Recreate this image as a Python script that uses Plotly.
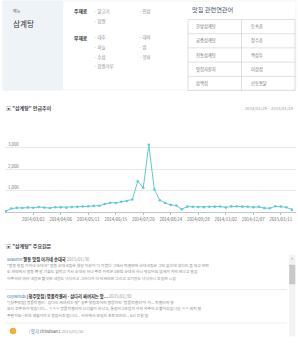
import plotly.graph_objects as go

W, H = 298, 347
KR = "Noto Sans CJK KR"

# ---------------- data ----------------
weeks = [
    "2014-01-26", "2014-02-02", "2014-02-09", "2014-02-16", "2014-02-23",
    "2014-03-02", "2014-03-09", "2014-03-16", "2014-03-23", "2014-03-30",
    "2014-04-06", "2014-04-13", "2014-04-20", "2014-04-27",
    "2014-05-04", "2014-05-11", "2014-05-18", "2014-05-25",
    "2014-06-01", "2014-06-08", "2014-06-15", "2014-06-22", "2014-06-29",
    "2014-07-06", "2014-07-13", "2014-07-20", "2014-07-27",
    "2014-08-03", "2014-08-10", "2014-08-17", "2014-08-24", "2014-08-31",
    "2014-09-07", "2014-09-14", "2014-09-21", "2014-09-28",
    "2014-10-05", "2014-10-12", "2014-10-19", "2014-10-26",
    "2014-11-02", "2014-11-09", "2014-11-16", "2014-11-23", "2014-11-30",
    "2014-12-07", "2014-12-14", "2014-12-21", "2014-12-28",
    "2015-01-04", "2015-01-11", "2015-01-18", "2015-01-25",
]
mentions = [
    30, 160, 190, 185, 215, 200, 230, 205, 185, 220,
    225, 200, 235, 240, 255, 270, 285, 290, 370, 430,
    420, 480, 510, 580, 1430, 1130, 3130, 1050, 550, 420,
    330, 300, 130, 250, 240, 235, 225, 240, 250, 255,
    215, 260, 265, 250, 245, 225, 240, 180, 175, 265,
    255, 220, 110,
]
x_tick_dates = ["2014-01-26", "2014-03-02", "2014-04-06", "2014-05-11", "2014-06-15",
                "2014-07-20", "2014-08-24", "2014-09-28", "2014-11-02", "2014-12-07",
                "2015-01-11"]
x_tick_labels = ["2014/01/26", "2014/03/02", "2014/04/06", "2014/05/11", "2014/06/15",
                 "2014/07/20", "2014/08/24", "2014/09/28", "2014/11/02", "2014/12/07",
                 "2015/01/11"]
y_tick_vals = [0, 1000, 2000, 3000, 4000]
y_tick_labels = ["", "1,000", "2,000", "3,000", ""]

menu_name = "삼계탕"
main_ingredients = ["닭고기", "인삼", "찹쌀"]
sub_ingredients = ["대추", "대파", "마늘", "밤", "수삼", "양파", "찹쌀가루"]
related_left = ["한방삼계탕", "궁중삼계탕", "전통삼계탕", "맛집자갈치", "삼백집"]
related_right = ["토속촌", "장수촌", "백삼투", "이삼정", "산동통닭"]
date_range_text = "2014/01/29 ~ 2015/01/29"

posts = [
    {"user": "seasmn", "title": "팔동 맛집 이가네 순대국", "date": "2015/01/30",
     "body": ["\"팔동 맛집 이가네 순대국\" 팔동 순대국집은 항상 이상이 다 가볍다 그래서 먹을만한 순대국집은 그닥 없는데 생긴지 좀 되고 한번",
              "도 와인에서 팔동 쪽 갈 기회도 없었고 가서 순대국 하나 주문 가격은 3천원 순대국 하나 맛있어요 냄새가 거의 안나고 깔끔",
              "이주하여 여러 내장은 쫄깃한 내장도 넉넉하고 그러다가 더 비싸지만 그리고 고기정도 넉넉하니 푸짐한 느낌"]},
    {"user": "coywinds", "title": "[청주맛집] 명품칵겔러 - 삼다리 싸여지는 맛...", "date": "2015/01/30",
     "body": ["\"[청주맛집] 명품칵겔러 - 삼다리 싸여지는 맛\" 청주 맛집투어의 팔방미인 '명품칵겔러'이 가... 칵겔러의 맛",
              "요리 전주한가 맛습니다... ㅋㅋㅋ 명품칵겔러의 신선함이 지났고, 통갈비 2호점이 거의 자주하고 뿔어있습니당 ㅋㅋ 워치 잘",
              "주말가요~ 저희 체험이라고 종합사진 됩니다... 사진에서 보일지 포토인지라... 6시 전용 팀"]},
]
post3 = {"user": "chinduan1", "tag": "맛지", "date": "2015/01/30"}

# ---------------- figure ----------------
def px(x):
    return x / W

def py(y):
    return 1 - y / H

fig = go.Figure()
fig.add_trace(go.Scatter(
    x=weeks, y=mentions, mode="lines+markers",
    line=dict(color="#5fcbd8", width=1),
    marker=dict(color="#5fcbd8", size=2.6),
    hoverinfo="x+y", showlegend=False,
))

ann = []
def text(x, y, s, size, color="#555", bold=False, anchor="left"):
    ann.append(dict(x=px(x), y=py(y), xref="paper", yref="paper", text=("<b>%s</b>" % s) if bold else s,
                    showarrow=False, xanchor=anchor, yanchor="middle",
                    font=dict(family=KR, size=size, color=color)))

shapes = []
def rect(x0, y0, x1, y1, fill="rgba(0,0,0,0)", line="#e3e3e3", lw=0.6):
    shapes.append(dict(type="rect", xref="paper", yref="paper", x0=px(x0), x1=px(x1), y0=py(y1), y1=py(y0),
                       fillcolor=fill, line=dict(color=line, width=lw), layer="below"))

def hline(x0, x1, y, color="#e3e3e3", lw=0.6):
    shapes.append(dict(type="line", xref="paper", yref="paper", x0=px(x0), x1=px(x1), y0=py(y), y1=py(y),
                       line=dict(color=color, width=lw)))

def vline(x, y0, y1, color="#cfcfcf", lw=0.6):
    shapes.append(dict(type="line", xref="paper", yref="paper", x0=px(x), x1=px(x), y0=py(y0), y1=py(y1),
                       line=dict(color=color, width=lw)))

# top info box
rect(3, 1, 296, 90, line="#ececec")
rect(3, 1, 63, 90, fill="#eef3f8", line="#eef3f8")
text(11, 11, "메뉴", 4, "#666")
text(10.5, 24, menu_name, 7.6, "#333")

text(71.5, 11, "주재료", 4.8, "#333", bold=True)
text(92, 11, "· " + main_ingredients[0], 4.4, "#888")
text(137, 11, "· " + main_ingredients[1], 4.4, "#888")
text(92, 21.5, "· " + main_ingredients[2], 4.4, "#888")
text(71.5, 37.5, "부재료", 4.8, "#333", bold=True)
sub_pos = [(92, 37.5), (137, 37.5), (92, 47.5), (137, 47.5), (92, 57), (137, 57), (92, 66)]
for (sx, sy), name in zip(sub_pos, sub_ingredients):
    text(sx, sy, "· " + name, 4.4, "#888")

# related keywords table
text(190, 9.5, "맛집 관련연관어", 6.2, "#445066")
tx0, tx1, tmid, ty0, rh = 188, 295, 241.5, 19.5, 14.2
rect(tx0, ty0, tx1, ty0 + rh * 5, line="#cccccc")
vline(tmid, ty0, ty0 + rh * 5, color="#cccccc")
for i in range(1, 5):
    hline(tx0, tx1, ty0 + rh * i, color="#cccccc")
for i, (a, b) in enumerate(zip(related_left, related_right)):
    yy = ty0 + rh * i + rh / 2
    text(194, yy, a, 4.3, "#777")
    text(249, yy, b, 4.3, "#777")

# section 1 header
text(4, 108, "▣ <b>\"삼계탕\" 언급추이</b>", 5.0, "#444")
text(296, 108, date_range_text, 4.2, "#999", anchor="right")

# section 2 header
text(4, 246, "▣ <b>\"삼계탕\" 주요원문</b>", 5.0, "#444")

# posts
title_y = [259, 296]
for p, ty in zip(posts, title_y):
    s = ("<span style='color:#3c78c8'>%s</span> <b>%s</b> <span style='color:#999'>%s</span>"
         % (p["user"], p["title"], p["date"]))
    text(5, ty, s, 4.3, "#333")
    for k, line in enumerate(p["body"]):
        text(5, ty + 6.3 + 6.1 * k, line, 3.9, "#8a8a8a")
hline(5, 287, 289.5)
hline(5, 287, 323)
shapes.append(dict(type="circle", xref="paper", yref="paper", x0=px(10), x1=px(16), y0=py(334), y1=py(328),
                   fillcolor="#f0b040", line=dict(color="#e39a20", width=0.5)))
text(27, 331, "<span style='color:#3c78c8'>| %s</span> %s <span style='color:#999'>%s</span>"
     % (post3["tag"], post3["user"], post3["date"]), 4.2, "#555")

# scrollbar
rect(289.5, 255, 295, 336, fill="#f2f2f2", line="#f2f2f2")
rect(289.5, 265, 295, 284, fill="#c9c9c9", line="#c9c9c9")
text(292.2, 259, "^", 4.5, "#777", anchor="center")

fig.update_layout(
    width=W, height=H,
    margin=dict(l=0, r=0, t=0, b=0),
    paper_bgcolor="white", plot_bgcolor="white",
    annotations=ann, shapes=shapes,
    font=dict(family=KR, size=4.4, color="#666"),
    xaxis=dict(
        domain=[px(5), px(296)],
        type="date",
        range=["2014-01-25", "2015-01-30 08:00"],
        tickvals=x_tick_dates, ticktext=x_tick_labels,
        ticks="outside", ticklen=2.5, tickcolor="#bbbbbb", tickwidth=0.6,
        ticklabeloverflow="allow",
        showgrid=False, showline=True, linecolor="#c4c4c4", linewidth=0.8,
        zeroline=False, automargin=False,
        tickfont=dict(family=KR, size=4.3, color="#666"),
    ),
    yaxis=dict(
        domain=[py(212), py(126)],
        range=[0, 4000],
        tickvals=y_tick_vals, ticktext=y_tick_labels,
        ticklabelposition="inside top", ticks="",
        showgrid=True, gridcolor="#e9e9e9", gridwidth=0.8,
        zeroline=False, showline=False, automargin=False,
        tickfont=dict(family=KR, size=4.3, color="#777"),
    ),
)

fig.write_html("out.html")
